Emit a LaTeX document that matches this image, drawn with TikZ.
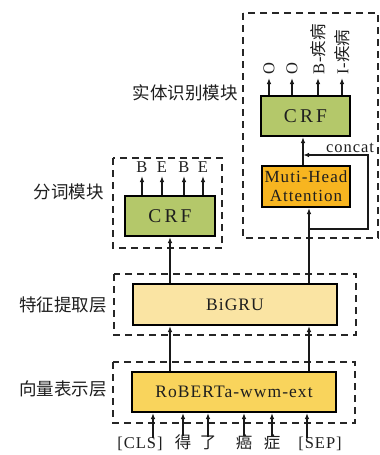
\documentclass[tikz,border=0pt]{standalone}
\usepackage{fontspec}
\setmainfont{Liberation Serif}[LetterSpace=6]
\newfontfamily\cjk{Noto Sans CJK SC}
\newfontfamily\crffont{Liberation Serif}[LetterSpace=16]
\usetikzlibrary{arrows.meta}
\definecolor{crfgreen}{HTML}{B4C86A}
\definecolor{attorange}{HTML}{F7B520}
\definecolor{grulight}{HTML}{FAE4A3}
\definecolor{robyellow}{HTML}{F9D45C}
\definecolor{txt}{HTML}{1E1E1E}
\tikzset{
  x=1pt, y=-1pt,
  blk/.style={draw=black, line width=2pt, inner sep=0pt, text=txt, font=\fontsize{17.5}{19}\selectfont},
  crfblk/.style={blk, fill=crfgreen, font=\crffont\fontsize{19.5}{21}\selectfont},
  grp/.style={draw=black!85, line width=1.3pt, dash pattern=on 7pt off 5pt},
  arr/.style={draw=black!90, line width=1.4pt, -{Latex[length=6pt,width=4.5pt]}},
  lbl/.style={text=txt, inner sep=0pt, font=\fontsize{17.5}{19}\selectfont\cjk},
  tag/.style={text=txt, inner sep=0pt, font=\fontsize{16.5}{18}\selectfont},
}
\begin{document}
\begin{tikzpicture}
\useasboundingbox (0,0) rectangle (380,455);
% dashed groups
\draw[grp] (113,362) rectangle (355,423);
\draw[grp] (114,274) rectangle (356,335);
\draw[grp] (113,158) rectangle (222,248);
\draw[grp] (243,13) rectangle (378,238);
% blocks
\node[blk, fill=robyellow, minimum width=204pt, minimum height=40pt] (rob) at (234,392) {RoBERTa-wwm-ext};
\node[blk, fill=grulight, minimum width=204pt, minimum height=41pt] (gru) at (235,304.5) {BiGRU};
\node[crfblk, minimum width=90pt, minimum height=40pt] (crfa) at (170,216) {CRF};
\node[crfblk, minimum width=89pt, minimum height=40pt] (crfb) at (305.5,116) {CRF};
\node[blk, fill=attorange, minimum width=88pt, minimum height=41pt, align=center, font=\fontsize{17}{19}\selectfont] (att) at (306,186.5) {Muti-Head\\Attention};
% left labels
\node[lbl, anchor=east] (l1) at (238,93) {实体识别模块};
\node[lbl, anchor=east] (l2) at (104,192) {分词模块};
\node[lbl, anchor=east] (l3) at (107,305) {特征提取层};
\node[lbl, anchor=east] (l4) at (107,389) {向量表示层};
% inputs
\node[tag, anchor=base] (cls) at (140,448) {[CLS]};
\node[tag, anchor=base] (de) at (183,448) {\cjk 得};
\node[tag, anchor=base] (le) at (208,448) {\cjk 了};
\node[tag, anchor=base] (ai) at (244,448) {\cjk 癌};
\node[tag, anchor=base] (zh) at (272,448) {\cjk 症};
\node[tag, anchor=base] (sep) at (320,448) {[SEP]};
\draw[arr] ([xshift=13pt,yshift=-2pt]cls.north) -- ([xshift=13pt]cls.north |- rob.south);
\draw[arr] ([yshift=-2pt]de.north) -- (de.north |- rob.south);
\draw[arr] ([yshift=-2pt]le.north) -- (le.north |- rob.south);
\draw[arr] ([yshift=-2pt]ai.north) -- (ai.north |- rob.south);
\draw[arr] ([yshift=-2pt]zh.north) -- (zh.north |- rob.south);
\draw[arr] ([xshift=-13pt,yshift=-2pt]sep.north) -- ([xshift=-13pt]sep.north |- rob.south);
% rob -> gru
\coordinate (cl) at (170,0);
\coordinate (cr) at (309,0);
\draw[arr] (rob.north -| cl) -- (gru.south -| cl);
\draw[arr] (rob.north -| cr) -- (gru.south -| cr);
% gru -> crfa
\draw[arr] (gru.north -| cl) -- (crfa.south);
% gru -> att
\draw[arr] (gru.north -| cr) -- (att.south -| cr);
% att -> crfb
\coordinate (cu) at (303,0);
\draw[arr] (att.north -| cu) -- (crfb.south -| cu);
% concat loop
\coordinate (lp1) at (309,229);
\coordinate (lp2) at (368,229);
\coordinate (lp3) at (368,155);
\coordinate (lp4) at (303,155);
\draw[arr] (lp1) -- (lp2) -- (lp3) -- (lp4);
\node[tag, anchor=base] (cc) at (350,152) {concat};
% seg outputs
\foreach \x/\t [count=\i] in {142/B,162/E,184/B,203/E}{
  \coordinate (sa\i) at (\x,176);
  \draw[arr] (crfa.north -| sa\i) -- (sa\i);
  \node[tag, anchor=base] (st\i) at (\x,172) {\t};
}
% entity outputs
\foreach \x/\t [count=\i] in {269/O,292/O,318/{B-{\cjk 疾病}},342/{I-{\cjk 疾病}}}{
  \coordinate (ea\i) at (\x,78);
  \draw[arr] (crfb.north -| ea\i) -- (ea\i);
  \node[tag, rotate=90, anchor=west, inner sep=1pt] (et\i) at (\x,76) {\t};
}
\end{tikzpicture}
\end{document}
